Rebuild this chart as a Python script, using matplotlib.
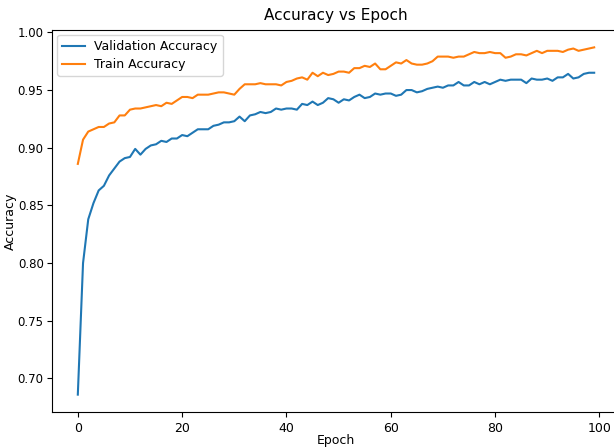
import matplotlib
matplotlib.use("Agg")
import matplotlib.pyplot as plt

# ==== data ====
epochs = list(range(100))

val_acc = [
    0.686, 0.800, 0.838, 0.852, 0.863, 0.867, 0.876, 0.882, 0.888, 0.891,
    0.892, 0.899, 0.894, 0.899, 0.902, 0.903, 0.906, 0.905, 0.908, 0.908,
    0.911, 0.910, 0.913, 0.916, 0.916, 0.916, 0.919, 0.920, 0.922, 0.922,
    0.923, 0.927, 0.923, 0.928, 0.929, 0.931, 0.930, 0.931, 0.934, 0.933,
    0.934, 0.934, 0.933, 0.938, 0.937, 0.940, 0.937, 0.939, 0.943, 0.942,
    0.939, 0.942, 0.941, 0.944, 0.946, 0.943, 0.944, 0.947, 0.946, 0.947,
    0.947, 0.945, 0.946, 0.950, 0.950, 0.948, 0.949, 0.951, 0.952, 0.953,
    0.952, 0.954, 0.954, 0.957, 0.954, 0.954, 0.957, 0.955, 0.957, 0.955,
    0.957, 0.959, 0.958, 0.959, 0.959, 0.959, 0.956, 0.960, 0.959, 0.959,
    0.960, 0.958, 0.961, 0.961, 0.964, 0.960, 0.961, 0.964, 0.965, 0.965,
]

train_acc = [
    0.886, 0.907, 0.914, 0.916, 0.918, 0.918, 0.921, 0.922, 0.928, 0.928,
    0.933, 0.934, 0.934, 0.935, 0.936, 0.937, 0.936, 0.939, 0.938, 0.941,
    0.944, 0.944, 0.943, 0.946, 0.946, 0.946, 0.947, 0.948, 0.948, 0.947,
    0.946, 0.951, 0.955, 0.955, 0.955, 0.956, 0.955, 0.955, 0.955, 0.954,
    0.957, 0.958, 0.960, 0.961, 0.959, 0.965, 0.962, 0.965, 0.963, 0.964,
    0.966, 0.966, 0.965, 0.969, 0.969, 0.971, 0.970, 0.973, 0.968, 0.968,
    0.971, 0.974, 0.973, 0.976, 0.973, 0.972, 0.972, 0.973, 0.975, 0.979,
    0.979, 0.979, 0.978, 0.979, 0.979, 0.981, 0.983, 0.982, 0.982, 0.983,
    0.982, 0.982, 0.978, 0.979, 0.981, 0.981, 0.980, 0.982, 0.984, 0.982,
    0.984, 0.984, 0.984, 0.983, 0.985, 0.986, 0.984, 0.985, 0.986, 0.987,
]

plt.rcParams["font.family"] = "DejaVu Sans"

# ==== plot ====
fig = plt.figure(figsize=(6.14, 4.48), dpi=100)
# right spine sits just past the image edge, as in the reference
ax = fig.add_axes([52 / 614, 36 / 448, 568 / 614, 382 / 448])

ax.plot(epochs, val_acc, label="Validation Accuracy")
ax.plot(epochs, train_acc, label="Train Accuracy")

ax.set_title("Accuracy vs Epoch", fontsize=11, pad=7)
ax.set_xlabel("Epoch", fontsize=9)
ax.set_ylabel("Accuracy", fontsize=9)
ax.xaxis.set_label_coords(0.5, -0.057)
ax.yaxis.set_label_coords(-0.061, 0.5)
ax.set_xticks([0, 20, 40, 60, 80, 100])
ax.tick_params(axis="x", labelsize=9)
ax.tick_params(axis="y", labelsize=8.5, pad=2.5)
ax.legend(loc="upper left", fontsize=9, handlelength=1.8,
          borderaxespad=0.4, labelspacing=0.4)

fig.savefig("out.png", dpi=100)
